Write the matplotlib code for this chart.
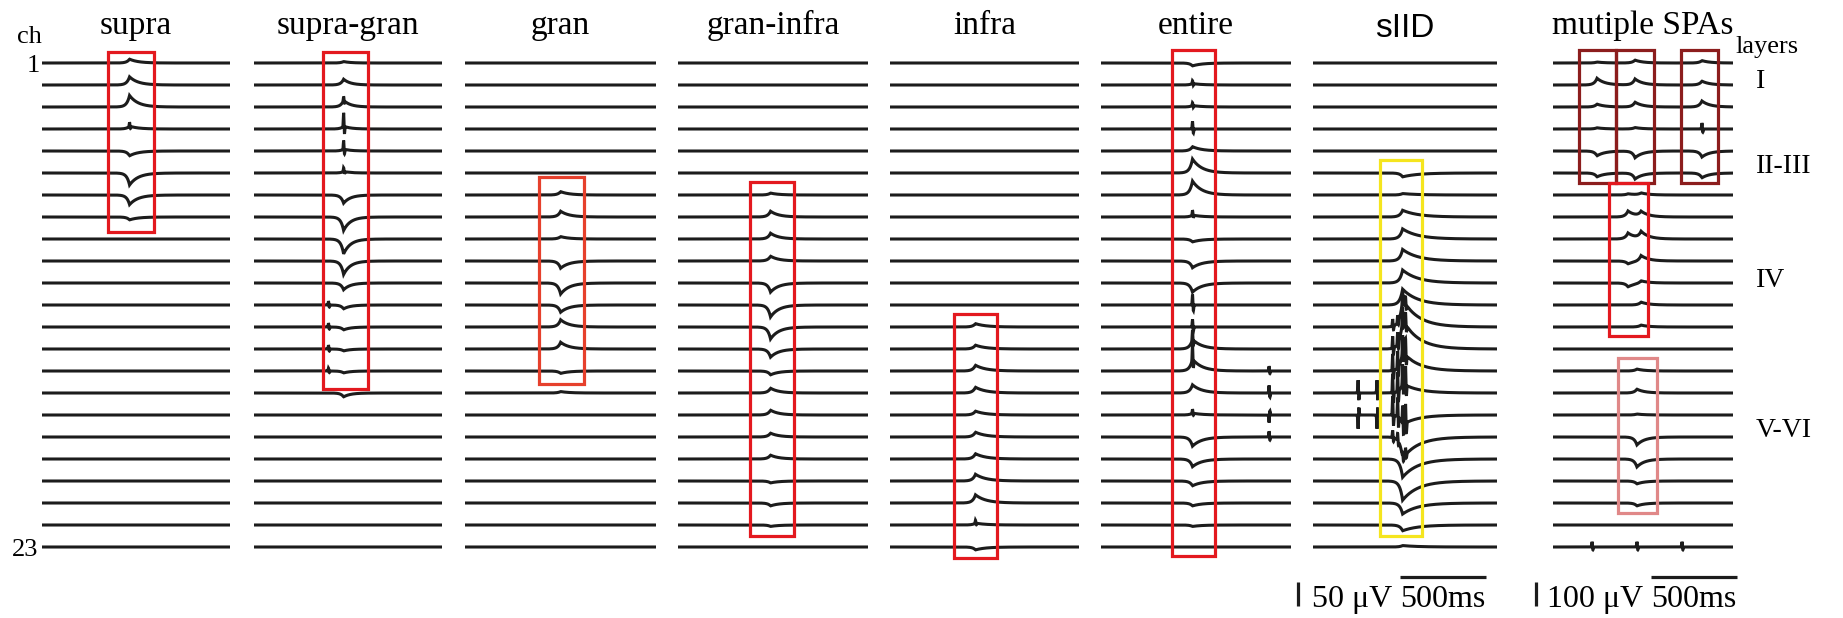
import numpy as np
import matplotlib
matplotlib.use("Agg")
import matplotlib.pyplot as plt
from matplotlib.patches import Rectangle

W, H, DPI = 1843, 618, 100
ROW_PX = 22.0          # vertical distance between channels
TOP_PX = 63.0          # baseline of channel 1
BAR_PX = 24.0          # height of the amplitude scale bar
PX_PER_MS = 86.0 / 500.0

N_CH = 23
TITLES = ["supra", "supra-gran", "gran", "gran-infra", "infra", "entire", "sIID", "mutiple SPAs"]
SCALE_UV = [50, 50, 50, 50, 50, 50, 50, 100]

# panel layout in pixels
PANEL_LEFT = [42, 254, 465, 678, 890, 1101, 1313, 1553]
PANEL_WIDTH = [188, 188, 191, 190, 189, 190, 184, 180]
DECAY_MS = [50, 40, 50, 48, 60, 55, 90, 45]

# per-channel amplitudes (uV) of the slow component, and of sharp spikes
SUPRA = [8, 17, 24, 6, -10, -25, -20, -6] + [0] * 15
SUPRA_FAST = [0, 0, 0, 8] + [0] * 19
SUPRA_GRAN = [3, 12, 14, 6, 4, 3, -17, -28, -31, -28, -14, -8, -6, -4, -4, -8, 0, 0, 0, 0, 0, 0, 0]
SUPRA_GRAN_FAST = [0, 0, 8, 28, 18, 8] + [0] * 17
SUPRA_GRAN_EARLY = [0] * 11 + [8, 8, 8, 6] + [0] * 8
GRAN = [0, 0, 0, 0, 0, 0, 7, 12, 5, -15, -23, -15, 15, 14, -5, 3, 0, 0, 0, 0, 0, 0, 0]
GRAN_INFRA = [0, 0, 0, 0, 0, 0, 4, 12, 12, 10, -19, -25, -25, -17, -8, 10, 10, 8, 8, -4, -6, -3, 0]
INFRA = [0] * 12 + [7, 8, 12, 12, 8, 10, 11, 14, 17, 4, -6]
INFRA_FAST = [0] * 21 + [6, 0]
ENTIRE = [-6, 3, 3, 0, 9, 29, 29, 4, -6, -14, -19, 0, 0, 20, 25, 17, 4, -19, -16, -10, -6, -3, 0]
ENTIRE_FAST = [0, 6, 6, 16, 0, 0, 0, 10, 0, 0, 0, 22, 16, 20, 30, 0, 8, 0, 0, 0, 0, 0, 0]
ENTIRE_LATE = [0] * 14 + [10, 16, -16, 12] + [0] * 5
SIID = [0, 0, 0, 0, 0, -8, 3, 14, 21, 24, 27, 33, 58, 62, 40, 20, -20, -45, -38, -40, -23, -12, 3]
SIID_FAST = [0] * 12 + [15, 25, 35, 40, 40, 15, 0, 0, 0, 0, 0]
SIID_PRE = [0] * 15 + [27, -29] + [0] * 6
SPA_A = [4, 28, 12, 5, -20, -16] + [0] * 17
SPA_B = [12, 25, 20, 6, -28, -25] + [0] * 17
SPA_C = [10, 16, 25, 0, -25, -20] + [0] * 17
SPA_C_FAST = [0, 0, 0, 25] + [0] * 19
SPA_D1 = [0] * 6 + [5, 25, 25, -12, -16, 0, 0] + [0] * 10
SPA_D2 = [0] * 6 + [8, 20, 28, 25, 12, 12, 8] + [0] * 10
SPA_E = [0] * 14 + [8, 16, 4, -33, -33, -12, -12] + [0] * 2
SPA_TAIL = [0] * 22 + [22]

NONE = [0] * N_CH
# (time ms, slow amplitudes, spike amplitudes) for every panel
EVENTS = [
    [(509, SUPRA, SUPRA_FAST)],
    [(521, SUPRA_GRAN, SUPRA_GRAN_FAST), (433, NONE, SUPRA_GRAN_EARLY)],
    [(556, GRAN, NONE)],
    [(538, GRAN_INFRA, NONE)],
    [(497, INFRA, INFRA_FAST)],
    [(532, ENTIRE, ENTIRE_FAST), (977, NONE, ENTIRE_LATE)],
    [(521, SIID, SIID_FAST), (463, NONE, SIID_FAST), (492, NONE, SIID_FAST),
     (538, NONE, SIID_FAST), (262, NONE, SIID_PRE), (372, NONE, SIID_PRE)],
    [(256, SPA_A, NONE), (477, SPA_B, NONE), (866, SPA_C, SPA_C_FAST),
     (436, SPA_D1, NONE), (512, SPA_D2, NONE), (488, SPA_E, NONE),
     (227, NONE, SPA_TAIL), (488, NONE, SPA_TAIL), (750, NONE, SPA_TAIL)],
]

# highlighted windows: (start ms, end ms, first channel, last channel, colour)
RED, DARK_RED, PINK, YELLOW = "#e3191f", "#8c1d1d", "#e08888", "#f5e51e"
BOXES = [
    [(386, 650, 0.5, 8.7, RED)],
    [(401, 663, 0.5, 15.8, RED)],
    [(430, 692, 6.2, 15.6, "#e6402c")],
    [(419, 674, 6.4, 22.5, RED)],
    [(372, 622, 12.4, 23.5, RED)],
    [(413, 663, 0.4, 23.4, RED)],
    [(390, 634, 5.4, 22.5, YELLOW)],
    [(151, 366, 0.4, 6.45, DARK_RED), (366, 587, 0.4, 6.45, DARK_RED),
     (744, 959, 0.4, 6.45, DARK_RED), (326, 552, 6.45, 13.4, RED),
     (378, 605, 14.4, 21.45, PINK)],
]

LAYERS = ["I", "II-III", "IV", "V-VI"]
LAYER_BASE_PX = [88, 173, 287, 437]

SERIF = "Liberation Serif"
SANS = "Liberation Sans"
INK = "#1c1c1c"


def bump(t, t0, amp, decay, rise=16.0):
    d = t - t0
    return amp * np.where(d < 0, np.exp(np.minimum(d, 0) / rise), np.exp(-np.maximum(d, 0) / decay))


def spike(t, t0, amp, w=2.5):
    d = (t - t0) / w
    return amp * (np.exp(-d ** 2) - 0.55 * np.exp(-(d - 2.0) ** 2))


def ftext(px, py, s, **kw):
    fig.text(px / W, 1 - py / H, s, **kw)


fig = plt.figure(figsize=(W / DPI, H / DPI), dpi=DPI)

for i, title in enumerate(TITLES):
    left, width = PANEL_LEFT[i], PANEL_WIDTH[i]
    sp = ROW_PX / BAR_PX * SCALE_UV[i]
    dur = width / PX_PER_MS
    ax = fig.add_axes([left / W, 0, width / W, 1])
    ax.set_xlim(0, dur)
    ax.set_ylim(-(H - TOP_PX) / ROW_PX * sp, TOP_PX / ROW_PX * sp)
    ax.axis("off")

    t = np.arange(0, dur, 0.25)
    for ch in range(N_CH):
        y = np.zeros_like(t)
        for t0, slow, fast in EVENTS[i]:
            if slow[ch]:
                y += bump(t, t0, slow[ch], DECAY_MS[i])
            if fast[ch]:
                y += spike(t, t0, fast[ch])
        ax.plot(t, y - ch * sp, color=INK, lw=2.2, solid_joinstyle="miter")

    for t0, t1, c0, c1, color in BOXES[i]:
        ax.add_patch(Rectangle((t0, -(c1 - 1) * sp), t1 - t0, (c1 - c0) * sp,
                               fill=False, ec=color, lw=2.3, zorder=3))

    cx = left + width / 2
    if title == "sIID":
        ftext(cx, 37, title, ha="center", va="baseline", fontsize=24, family=SANS)
    else:
        ftext(cx, 34, title, ha="center", va="baseline", fontsize=24, family=SERIF)

    # amplitude / time scale bars under the last two panels
    if i >= 6:
        if i == 6:
            bar_px, txt_px, line_px = -15, -1, 87
        else:
            bar_px, txt_px, line_px = -17, -6, 98
        yb = -(606 - TOP_PX) / ROW_PX * sp
        ax.plot([bar_px / PX_PER_MS] * 2, [yb, yb + SCALE_UV[i]], color=INK,
                lw=2.3, clip_on=False, solid_capstyle="butt")
        yl = -(577 - TOP_PX) / ROW_PX * sp
        x0 = line_px / PX_PER_MS
        ax.plot([x0, x0 + 500], [yl, yl], color=INK, lw=2.3, clip_on=False,
                solid_capstyle="butt")
        ftext(left + txt_px, 607, f"{SCALE_UV[i]} μV", ha="left", va="baseline",
              fontsize=23, family=SERIF)
        ftext(left + line_px, 607, "500ms", ha="left", va="baseline",
              fontsize=23, family=SERIF)

ftext(17, 43, "ch", ha="left", va="baseline", fontsize=19, family=SERIF)
ftext(40, 72, "1", ha="right", va="baseline", fontsize=19, family=SERIF)
ftext(38, 556, "23", ha="right", va="baseline", fontsize=19, family=SERIF)

ftext(1735, 53, "layers", ha="left", va="baseline", fontsize=19, family=SERIF)
for name, base in zip(LAYERS, LAYER_BASE_PX):
    ftext(1756, base, name, ha="left", va="baseline", fontsize=20, family=SERIF)

fig.savefig("out.png", dpi=DPI, facecolor="white")
